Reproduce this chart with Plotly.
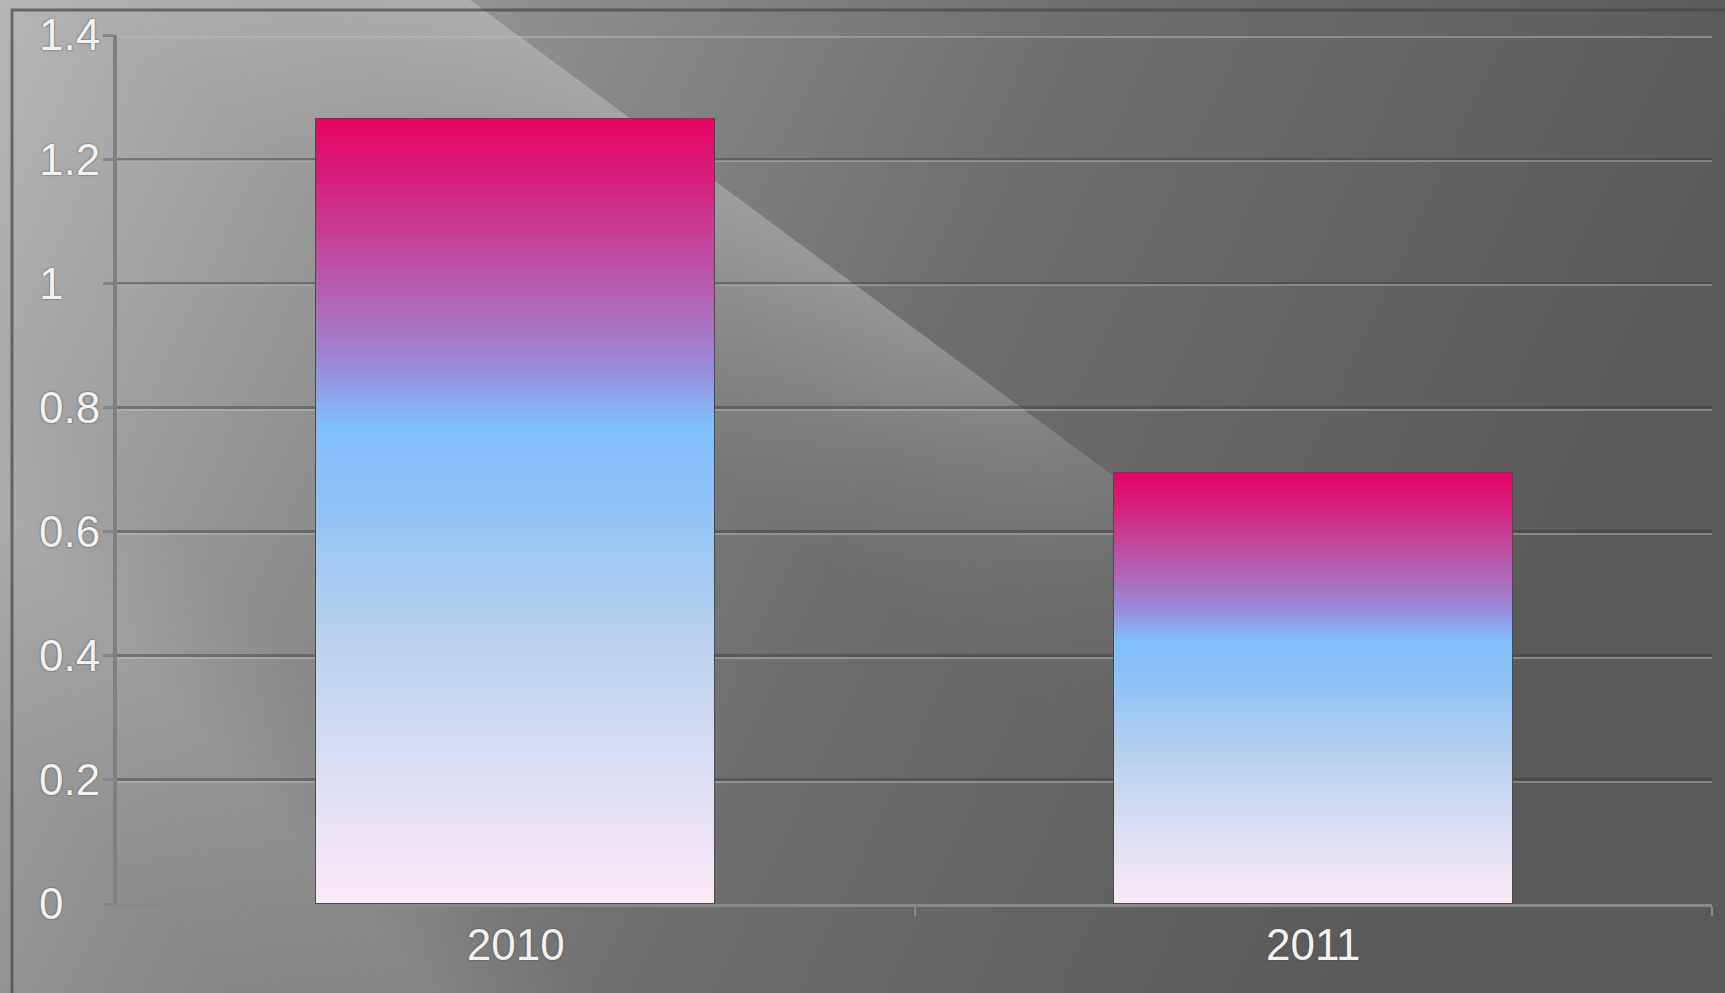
import base64
import plotly.graph_objects as go

# data
years = ["2010", "2011"]
values = [1.265, 0.695]

W, H = 1725, 993
N_SLICES = 200

# bar fill, from top of the bar (0) to its base (1)
grad_stops = [
    (0.00, (230, 4, 96)),
    (0.08, (214, 32, 126)),
    (0.17, (193, 74, 159)),
    (0.25, (174, 108, 188)),
    (0.32, (152, 142, 220)),
    (0.39, (128, 190, 252)),
    (0.50, (146, 196, 246)),
    (0.65, (182, 208, 238)),
    (0.80, (214, 220, 242)),
    (1.00, (252, 234, 248)),
]


def grad_color(t):
    for (t0, c0), (t1, c1) in zip(grad_stops[:-1], grad_stops[1:]):
        if t0 <= t <= t1:
            f = (t - t0) / (t1 - t0)
            r, g, b = (round(a + (b_ - a) * f) for a, b_ in zip(c0, c1))
            return f"rgb({r},{g},{b})"
    return "rgb(%d,%d,%d)" % grad_stops[-1][1]


# grey backdrop with the diagonal light streak
bg_svg = f"""<svg xmlns="http://www.w3.org/2000/svg" width="{W}" height="{H}" viewBox="0 0 {W} {H}" preserveAspectRatio="none">
<defs>
<linearGradient id="base" gradientUnits="userSpaceOnUse" x1="0" y1="0" x2="1500" y2="700">
<stop offset="0" stop-color="#b6b6b6"/>
<stop offset="0.3" stop-color="#8e8e8e"/>
<stop offset="0.6" stop-color="#6e6e6e"/>
<stop offset="1" stop-color="#5a5a5a"/>
</linearGradient>
<linearGradient id="streak" gradientUnits="userSpaceOnUse" x1="885" y1="307" x2="740" y2="503">
<stop offset="0" stop-color="#ffffff" stop-opacity="0.25"/>
<stop offset="0.5" stop-color="#ffffff" stop-opacity="0.10"/>
<stop offset="1" stop-color="#ffffff" stop-opacity="0"/>
</linearGradient>
<linearGradient id="fade" gradientUnits="userSpaceOnUse" x1="470" y1="0" x2="1300" y2="615">
<stop offset="0" stop-color="#fff"/>
<stop offset="0.55" stop-color="#fff"/>
<stop offset="1" stop-color="#000"/>
</linearGradient>
<mask id="m"><rect x="-3000" y="-3000" width="8000" height="8000" fill="url(#fade)"/></mask>
<linearGradient id="streak2" gradientUnits="userSpaceOnUse" x1="330" y1="700" x2="130" y2="880">
<stop offset="0" stop-color="#ffffff" stop-opacity="0"/>
<stop offset="0.45" stop-color="#ffffff" stop-opacity="0.08"/>
<stop offset="1" stop-color="#ffffff" stop-opacity="0"/>
</linearGradient>
</defs>
<rect width="{W}" height="{H}" fill="url(#base)"/>
<polygon points="-400,-644 2000,1132 215,3538 -2185,1762" fill="url(#streak)" mask="url(#m)"/>
<rect x="-100" y="-100" width="{W + 200}" height="{H + 200}" fill="url(#streak2)"/>
</svg>"""
bg_uri = "data:image/svg+xml;base64," + base64.b64encode(bg_svg.encode()).decode()

tick_font = dict(
    family="Liberation Sans, Arial",
    size=44,
    color="#f2f2f2",
    shadow="0px 0px 2px #3c3c3c",
)

fig = go.Figure()

for k in range(N_SLICES):
    t = 1 - (k + 0.5) / N_SLICES
    fig.add_trace(go.Bar(
        x=years,
        y=[v / N_SLICES for v in values],
        width=0.5,
        marker=dict(color=grad_color(t), line=dict(width=0)),
        hoverinfo="skip",
        showlegend=False,
    ))

# thin dark outline round each bar
fig.add_trace(go.Bar(
    x=years,
    y=values,
    width=0.5,
    xaxis="x2",
    marker=dict(color="rgba(0,0,0,0)", line=dict(color="#4a4a4a", width=1.5)),
    hoverinfo="skip",
    showlegend=False,
))

# dummy traces so the extra y axes get drawn
for ax in ["y2", "y3"]:
    fig.add_trace(go.Scatter(x=[years[0]], y=[0], yaxis=ax, mode="markers",
                             marker=dict(opacity=0), hoverinfo="skip", showlegend=False))

x_dom = [117 / W, 1712 / W]
y_dom = [1 - 904 / H, 1 - 35 / H]

fig.update_layout(
    width=W,
    height=H,
    margin=dict(l=0, r=0, t=0, b=0, autoexpand=False),
    barmode="stack",
    bargap=0,
    paper_bgcolor="#7a7a7a",
    plot_bgcolor="rgba(0,0,0,0)",
    xaxis=dict(
        domain=x_dom, type="category", range=[-0.5, 1.5], automargin=False,
        showline=True, linecolor="#8a8a8a", linewidth=3,
        ticks="outside", tickson="boundaries", ticklen=9, tickwidth=2, tickcolor="#8a8a8a",
        showgrid=False, tickfont=tick_font, anchor="y",
    ),
    xaxis2=dict(
        overlaying="x", type="category", range=[-0.5, 1.5], visible=False, anchor="y",
        automargin=False,
    ),
    yaxis=dict(
        domain=y_dom, range=[0, 1.4], dtick=0.2, automargin=False,
        showgrid=True, gridcolor="rgba(60,60,60,0.45)", gridwidth=2.5,
        showline=True, linecolor="#808080", linewidth=4,
        ticks="outside", ticklen=10, tickwidth=2.5, tickcolor="#858585",
        showticklabels=False, zeroline=False,
    ),
    yaxis2=dict(
        overlaying="y", anchor="free", position=0, side="right", automargin=False,
        range=[0, 1.4], dtick=0.2, showgrid=False, showline=False, zeroline=False,
        ticks="", ticklabelstandoff=38, tickfont=tick_font,
    ),
    # light highlight just under each gridline (embossed look)
    yaxis3=dict(
        overlaying="y", anchor="x", range=[0.0035, 1.4035], tick0=0, dtick=0.2,
        automargin=False, showgrid=True, gridcolor="rgba(190,190,190,0.45)", gridwidth=1.5,
        showline=False, zeroline=False, showticklabels=False, ticks="",
    ),
    images=[dict(
        source=bg_uri, xref="paper", yref="paper", x=0, y=1, sizex=1, sizey=1,
        xanchor="left", yanchor="top", sizing="stretch", layer="below",
    )],
    shapes=[dict(
        type="rect", xref="paper", yref="paper",
        x0=12 / W, x1=1.05, y0=-0.05, y1=1 - 10 / H,
        line=dict(color="rgba(70,70,70,0.7)", width=3), layer="below",
    )],
)

fig.write_html(
    "out.html",
    config={"displayModeBar": False},
    post_script="document.body.style.margin='0';document.body.style.overflow='hidden';",
)
